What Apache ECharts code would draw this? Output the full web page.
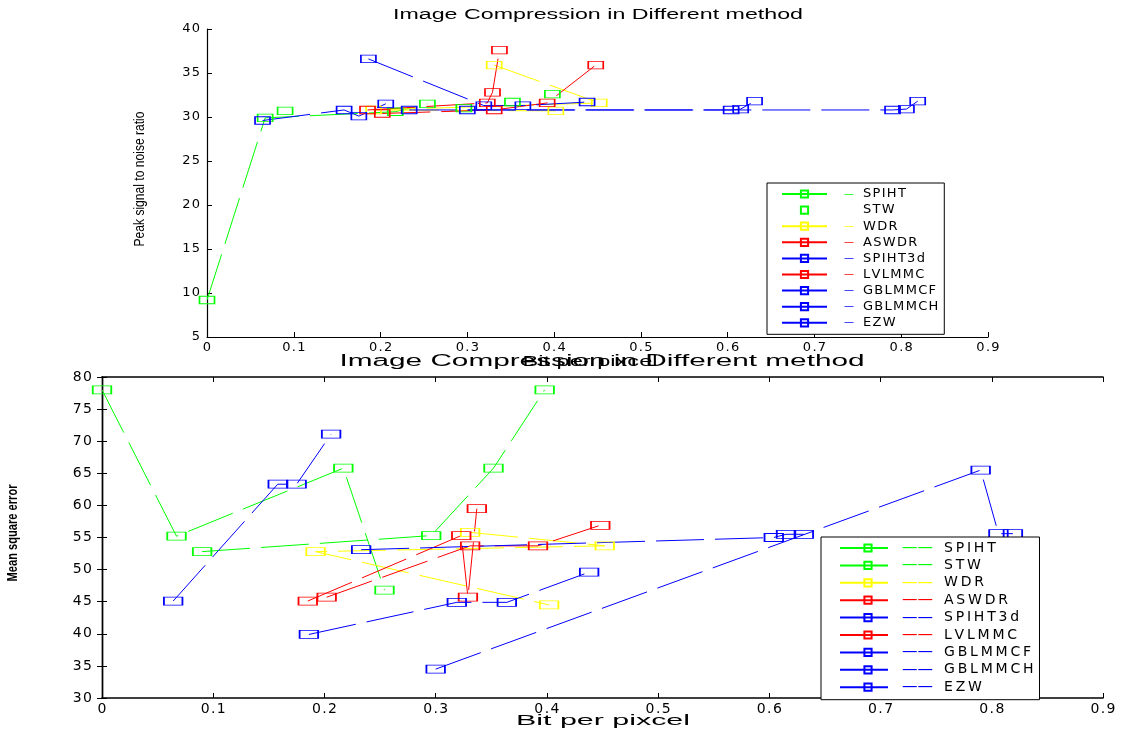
<!DOCTYPE html>
<html>
<head>
<meta charset="utf-8">
<title>Image Compression in Different method</title>
<script src="https://cdn.jsdelivr.net/npm/echarts@6/dist/echarts.min.js"></script>
<style>
  html, body { margin: 0; padding: 0; background: #fff; }
  #chart { width: 1129px; height: 730px; }
</style>
</head>
<body>
<div id="chart"></div>
<script>
// 方法名与 MATLAB 默认配色 g / y / r / b
const METHODS = ['SPIHT', 'STW', 'WDR', 'ASWDR', 'SPIHT3d', 'LVLMMC', 'GBLMMCF', 'GBLMMCH', 'EZW'];
const METHOD_COLORS = ['#00ff00', '#00ff00', '#ffff00', '#ff0000', '#0000ff', '#ff0000', '#0000ff', '#0000ff', '#0000ff'];

// bit per pixel（两幅图共用同一组 x）
const spihtBpp = [0, 0.067, 0.217, 0.254];
const stwBpp = [0.09, 0.296, 0.352, 0.398];
const wdrBpp = [0.331, 0.452, 0.192, 0.402];
const aswdrBpp = [0.185, 0.323, 0.329, 0.337];
const spiht3dBpp = [0.064, 0.158, 0.175, 0.206];
const lvlmmcBpp = [0.202, 0.331, 0.392, 0.448];
const gblmmcfBpp = [0.233, 0.604, 0.615, 0.631];
const gblmmchBpp = [0.186, 0.319, 0.364, 0.438];
const ezwBpp = [0.300, 0.790, 0.806, 0.819];

// 上图：Peak signal to noise ratio
const spihtPsnr = [9.2, 29.9, 30.6, 31.5];
const stwPsnr = [30.7, 31.0, 31.7, 32.6];
const wdrPsnr = [35.9, 31.6, 30.8, 30.7];
const aswdrPsnr = [30.8, 31.6, 32.8, 37.6];
const spiht3dPsnr = [29.6, 30.8, 30.1, 31.5];
const lvlmmcPsnr = [30.4, 30.8, 31.6, 35.9];
const gblmmcfPsnr = [30.8, 30.8, 30.9, 31.8];
const gblmmchPsnr = [36.6, 31.3, 31.3, 31.7];
const ezwPsnr = [30.8, 30.8, 30.9, 31.8];

// 下图：Mean square error
const spihtMse = [78, 55.2, 65.8, 46.8];
const stwMse = [52.8, 55.3, 65.8, 78];
const wdrMse = [55.8, 53.7, 52.8, 44.5];
const aswdrMse = [45.1, 55.3, 45.7, 59.5];
const spiht3dMse = [45.1, 63.3, 63.3, 71.1];
const lvlmmcMse = [45.7, 53.7, 53.7, 56.9];
const gblmmcfMse = [53.1, 55.0, 55.5, 55.5];
const gblmmchMse = [39.9, 44.9, 44.9, 49.6];
const ezwMse = [34.5, 65.5, 55.6, 55.6];

// 刻度标签
const xTickLabels = ['0', '0.1', '0.2', '0.3', '0.4', '0.5', '0.6', '0.7', '0.8', '0.9'];
const topYTicks = ['5', '10', '15', '20', '25', '30', '35', '40'];
const bottomYTicks = ['30', '35', '40', '45', '50', '55', '60', '65', '70', '75', '80'];

const BPP = [spihtBpp, stwBpp, wdrBpp, aswdrBpp, spiht3dBpp, lvlmmcBpp, gblmmcfBpp, gblmmchBpp, ezwBpp];
const PSNR = [spihtPsnr, stwPsnr, wdrPsnr, aswdrPsnr, spiht3dPsnr, lvlmmcPsnr, gblmmcfPsnr, gblmmchPsnr, ezwPsnr];
const MSE = [spihtMse, stwMse, wdrMse, aswdrMse, spiht3dMse, lvlmmcMse, gblmmcfMse, gblmmchMse, ezwMse];

const FONT = 'DejaVu Sans';
const HAIR = '\u200A';
const zip = (xs, ys) => xs.map((x, i) => [x, ys[i]]);
// 原图文字被横向拉伸，用极细空格稍微拉开字距
const spread = (s, gap) => s.split('').join(gap);

function fitScale(text, font, target) {
  const ctx = document.createElement('canvas').getContext('2d');
  ctx.font = font;
  return target / ctx.measureText(text).width;
}

function makeSeries(idx, pts, axisIdx, symbolSize, hideLine) {
  const c = METHOD_COLORS[idx];
  return {
    name: METHODS[idx],
    type: 'line',
    xAxisIndex: axisIdx,
    yAxisIndex: axisIdx,
    data: pts,
    symbol: 'rect',
    symbolSize,
    showSymbol: true,
    lineStyle: { color: c, width: 1, type: [48, 11], opacity: hideLine ? 0 : 1 },
    itemStyle: { color: 'rgba(255,255,255,0)', borderColor: c, borderWidth: 1.2 },
    emphasis: { disabled: true },
  };
}

// 下图系列放前面，图例图标取自同名的第一个系列
const series = [
  ...METHODS.map((_, i) => makeSeries(i, zip(BPP[i], MSE[i]), 1, [18.5, 8], false)),
  ...METHODS.map((_, i) => makeSeries(i, zip(BPP[i], PSNR[i]), 0, [15, 7.5], METHODS[i] === 'STW')),
];

const COLOR_KEY = { '#00ff00': 'g', '#ffff00': 'y', '#ff0000': 'r', '#0000ff': 'b' };
function legendRich(dashSize, padL, padR, labelSize) {
  const rich = {
    t: { fontFamily: FONT, fontSize: labelSize, color: '#000' },
    n: { fontFamily: FONT, fontSize: dashSize, color: 'rgba(0,0,0,0)', padding: [0, padR, 0, padL] },
  };
  Object.entries(COLOR_KEY).forEach(([c, k]) => {
    rich[k] = { fontFamily: FONT, fontSize: dashSize, color: c, padding: [0, padR, 0, padL] };
  });
  return rich;
}

const axisLineBlack = (w) => ({ show: true, lineStyle: { color: '#000', width: w } });
const tickIn = { show: true, inside: true, length: 5, lineStyle: { color: '#000', width: 1 } };

const titleFont = '14px "Liberation Sans"';
const bigFont = '16px "Liberation Sans"';
const xlabFont = '15px "Liberation Sans"';

const option = {
  animation: false,
  backgroundColor: '#fff',
  grid: [
    { left: 207, top: 29, width: 781, height: 308 },
    { left: 102, top: 377, width: 1001, height: 321 },
  ],
  xAxis: [
    {
      gridIndex: 0, type: 'value', min: 0, max: 0.9, interval: 0.1,
      axisLine: axisLineBlack(1.2), axisTick: tickIn, splitLine: { show: false },
      axisLabel: {
        color: '#000', fontFamily: FONT, fontSize: 13, margin: 4,
        formatter: (v) => spread(xTickLabels[Math.round(v * 10)], HAIR),
      },
    },
    {
      gridIndex: 1, type: 'value', min: 0, max: 0.9, interval: 0.1,
      axisLine: axisLineBlack(1.6), axisTick: tickIn, splitLine: { show: false },
      axisLabel: {
        color: '#000', fontFamily: FONT, fontSize: 14, margin: 4,
        formatter: (v) => spread(xTickLabels[Math.round(v * 10)], HAIR),
      },
    },
    {
      gridIndex: 1, type: 'value', position: 'top', min: 0, max: 0.9, interval: 0.1,
      axisLine: axisLineBlack(1.6), axisTick: tickIn, splitLine: { show: false },
      axisLabel: { show: false },
    },
  ],
  yAxis: [
    {
      gridIndex: 0, type: 'value', min: 5, max: 40, interval: 5,
      axisLine: axisLineBlack(1.2), axisTick: tickIn, splitLine: { show: false },
      axisLabel: {
        color: '#000', fontFamily: FONT, fontSize: 13, margin: 7,
        formatter: (v) => spread(topYTicks[Math.round((v - 5) / 5)], HAIR),
      },
    },
    {
      gridIndex: 1, type: 'value', min: 30, max: 80, interval: 5,
      axisLine: axisLineBlack(1.4), axisTick: tickIn, splitLine: { show: false },
      axisLabel: {
        color: '#000', fontFamily: FONT, fontSize: 14, margin: 10,
        formatter: (v) => spread(bottomYTicks[Math.round((v - 30) / 5)], HAIR),
      },
    },
    {
      gridIndex: 1, type: 'value', position: 'right', min: 30, max: 80, interval: 5,
      axisLine: axisLineBlack(1.4), axisTick: tickIn, splitLine: { show: false },
      axisLabel: { show: false },
    },
  ],
  legend: [
    {
      orient: 'vertical', left: 767, top: 183, align: 'left',
      padding: [4.5, 6, 5, 14], itemWidth: 45, itemHeight: 9, itemGap: 3.1,
      borderColor: '#000', borderWidth: 1, backgroundColor: '#fff',
      selectedMode: false,
      data: METHODS.map((n) => (n === 'STW' ? { name: n, lineStyle: { opacity: 0 } } : { name: n })),
      textStyle: { width: 154, fontFamily: FONT, fontSize: 13, rich: legendRich(10, 12, 9, 13) },
      formatter: (name) => {
        const i = METHODS.indexOf(name);
        const k = name === 'STW' ? 'n' : COLOR_KEY[METHOD_COLORS[i]];
        return `{${k}|—}{t|${spread(name, HAIR)}}`;
      },
    },
    {
      orient: 'vertical', left: 821, top: 537, align: 'left',
      padding: [3, 6, 4.5, 18], itemWidth: 56, itemHeight: 9, itemGap: 1.4,
      borderColor: '#000', borderWidth: 1, backgroundColor: '#fff',
      selectedMode: false,
      data: METHODS,
      textStyle: { width: 202, fontFamily: FONT, fontSize: 14, rich: legendRich(15.5, 1, 11, 14) },
      formatter: (name) => {
        const i = METHODS.indexOf(name);
        return `{${COLOR_KEY[METHOD_COLORS[i]]}|——}{t|${spread(name, '\u2009')}}`;
      },
    },
  ],
  graphic: [
    {
      type: 'text', x: 598, y: 15,
      scaleX: fitScale('Image Compression in Different method', titleFont, 410),
      style: { text: 'Image Compression in Different method', font: titleFont, fill: '#000', align: 'center', verticalAlign: 'middle' },
    },
    {
      type: 'text', x: 602, y: 362,
      scaleX: fitScale('Image Compression in Different method', bigFont, 525),
      style: { text: 'Image Compression in Different method', font: bigFont, fill: '#000', align: 'center', verticalAlign: 'middle' },
    },
    {
      type: 'text', x: 590, y: 362,
      scaleX: fitScale('Bit per pixcel', titleFont, 135),
      style: { text: 'Bit per pixcel', font: titleFont, fill: '#000', align: 'center', verticalAlign: 'middle' },
    },
    {
      type: 'text', x: 603, y: 721,
      scaleX: fitScale('Bit per pixcel', xlabFont, 174),
      style: { text: 'Bit per pixcel', font: xlabFont, fill: '#000', align: 'center', verticalAlign: 'middle' },
    },
    {
      type: 'text', x: 140, y: 179, rotation: Math.PI / 2,
      scaleX: fitScale('Peak signal to noise ratio', titleFont, 135),
      style: { text: 'Peak signal to noise ratio', font: titleFont, fill: '#000', align: 'center', verticalAlign: 'middle' },
    },
    {
      type: 'text', x: 13, y: 533, rotation: Math.PI / 2,
      scaleX: fitScale('Mean square error', 'bold ' + titleFont, 97),
      style: { text: 'Mean square error', font: 'bold ' + titleFont, fill: '#000', align: 'center', verticalAlign: 'middle' },
    },
  ],
  series,
};

const chart = echarts.init(document.getElementById('chart'), null, { renderer: 'canvas' });
chart.setOption(option);
</script>
</body>
</html>
